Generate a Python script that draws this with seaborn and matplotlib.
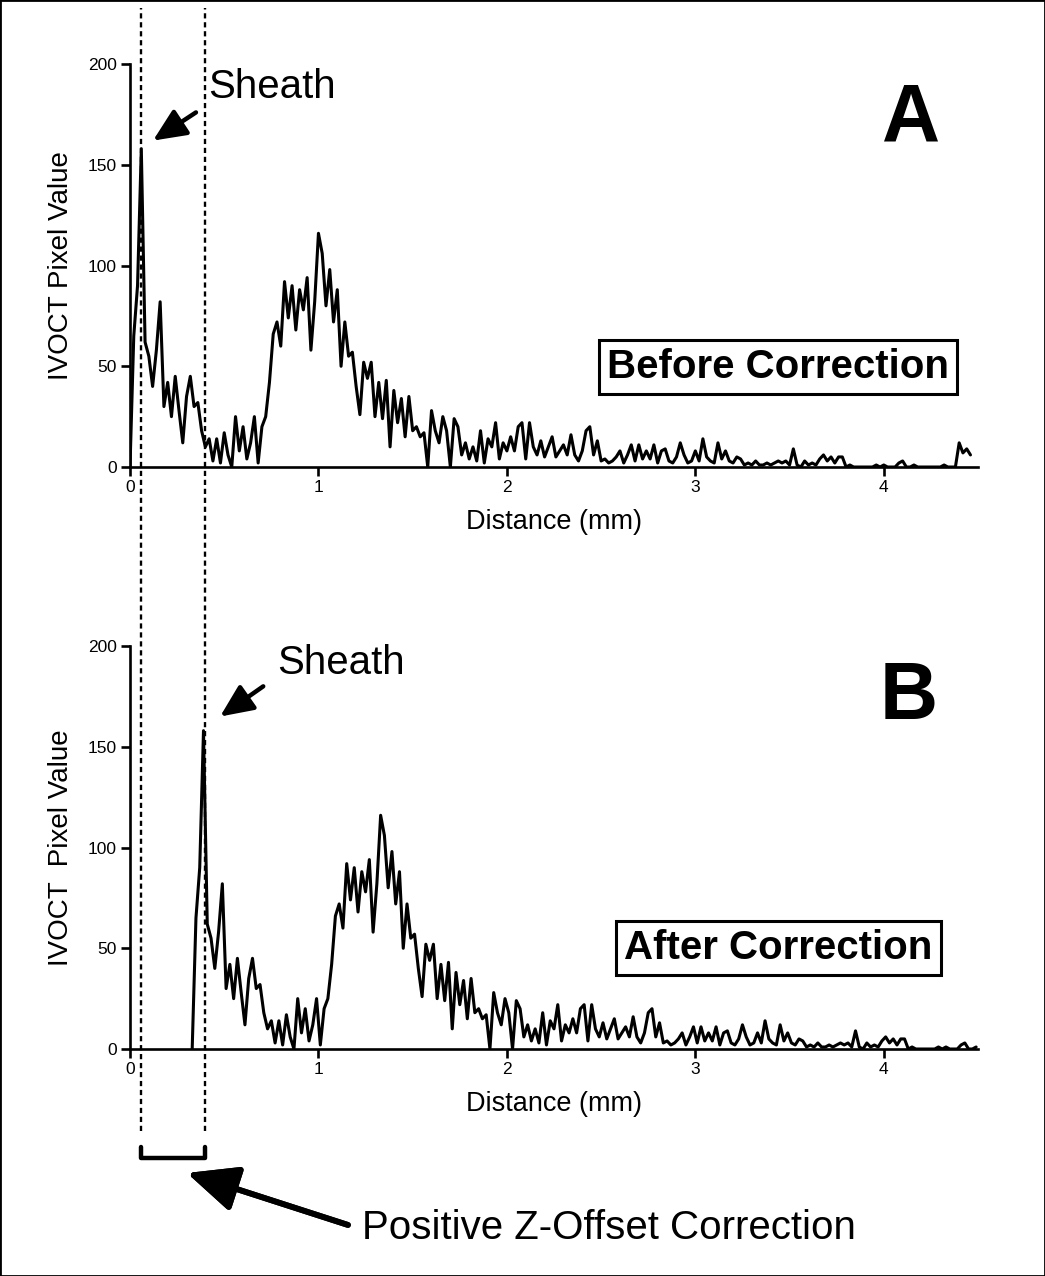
import numpy as np
import pandas as pd
import matplotlib
matplotlib.use("Agg")
import matplotlib.pyplot as plt
import seaborn as sns
from matplotlib.lines import Line2D
from matplotlib.patches import Rectangle

# IVOCT A-line profile, one sample every 0.02 mm
step_mm = 0.02
a_values = [
    0, 65, 90, 158, 62, 55, 40, 58, 82, 30,
    42, 25, 45, 28, 12, 35, 45, 30, 32, 18,
    10, 14, 3, 14, 2, 17, 6, 0, 25, 8,
    20, 4, 12, 25, 2, 20, 25, 42, 66, 72,
    60, 92, 74, 90, 68, 88, 78, 94, 58, 82,
    116, 106, 80, 98, 72, 88, 50, 72, 55, 57,
    40, 26, 52, 44, 52, 25, 42, 24, 43, 10,
    38, 22, 34, 15, 35, 18, 20, 15, 17, 0,
    28, 18, 12, 25, 18, 0, 24, 20, 6, 12,
    4, 10, 3, 18, 2, 14, 10, 22, 4, 12,
    8, 15, 8, 20, 22, 4, 22, 10, 6, 13,
    5, 10, 15, 5, 8, 11, 6, 16, 6, 3,
    8, 18, 20, 6, 13, 3, 4, 2, 3, 5,
    8, 2, 6, 11, 3, 11, 4, 8, 4, 11,
    2, 8, 9, 3, 2, 5, 12, 6, 2, 3,
    8, 3, 14, 5, 3, 2, 12, 4, 8, 3,
    2, 5, 4, 1, 2, 1, 3, 1, 1, 2,
    1, 2, 3, 2, 3, 1, 9, 1, 0, 3,
    1, 2, 1, 4, 6, 3, 5, 2, 5, 5,
    0, 1, 0, 0, 0, 0, 0, 0, 1, 0,
    1, 0, 0, 0, 2, 3, 0, 0, 1, 0,
    0, 0, 0, 0, 0, 0, 1, 0, 0, 0,
    12, 7, 9, 6,
]
z_offset_mm = 0.33       # shift applied in panel B
sheath_before_mm = 0.06  # sheath peak position before correction
sheath_after_mm = 0.40   # sheath peak position after correction

x_ticks = [0, 1, 2, 3, 4]
y_ticks = [0, 50, 100, 150, 200]

distance = np.arange(len(a_values)) * step_mm
df_a = pd.DataFrame({"distance": distance, "value": a_values})
df_b = pd.DataFrame({"distance": distance + z_offset_mm, "value": a_values})
df_b = df_b[df_b["distance"] <= 4.5]

sns.set_style("ticks")
plt.rcParams["font.family"] = ["Liberation Sans", "DejaVu Sans"]
plt.rcParams["text.color"] = "black"
plt.rcParams["axes.labelcolor"] = "black"

fig = plt.figure(figsize=(10.45, 12.76), dpi=100)
ax_a = fig.add_axes([0.1244, 0.634, 0.8115, 0.3158])
ax_b = fig.add_axes([0.1244, 0.1779, 0.8115, 0.3158])

for ax, df, ylab in [(ax_a, df_a, "IVOCT Pixel Value"),
                     (ax_b, df_b, "IVOCT  Pixel Value")]:
    sns.lineplot(data=df, x="distance", y="value", ax=ax, color="black",
                 linewidth=2.2, estimator=None, sort=False)
    ax.set_xlim(0, 4.5)
    ax.set_ylim(0, 200)
    ax.set_xticks(x_ticks)
    ax.set_yticks(y_ticks)
    sns.despine(ax=ax)
    for s in ["left", "bottom"]:
        ax.spines[s].set_linewidth(1.9)
        ax.spines[s].set_color("black")
    ax.tick_params(direction="out", length=6.5, width=1.9, labelsize=12.5,
                   colors="black", pad=3)
    ax.set_xlabel("Distance (mm)", fontsize=19.5)
    ax.set_ylabel(ylab, fontsize=20)
    ax.xaxis.set_label_coords(0.5, -0.105)
    ax.yaxis.set_label_coords(-0.066, 0.5)

arrow_small = dict(arrowstyle="-|>,head_length=1.0,head_width=0.45",
                   mutation_scale=20, lw=3.2, color="black", shrinkA=0, shrinkB=0)

# panel A annotations
ax_a.text(4.145, 162, "A", fontsize=58, fontweight="bold", ha="center", va="baseline")
ax_a.text(0.415, 183, "Sheath", fontsize=29, ha="left", va="baseline")
ax_a.annotate("", xy=(0.122, 162), xytext=(0.35, 176), arrowprops=arrow_small)
ax_a.text(3.44, 49.6, "Before Correction", fontsize=29, fontweight="bold",
          ha="center", va="center",
          bbox=dict(boxstyle="square,pad=0.2", fc="white", ec="black", lw=2.2))

# panel B annotations
ax_b.text(4.13, 164, "B", fontsize=58, fontweight="bold", ha="center", va="baseline")
ax_b.text(0.78, 186, "Sheath", fontsize=29, ha="left", va="baseline")
ax_b.annotate("", xy=(0.478, 165), xytext=(0.707, 180), arrowprops=arrow_small)
ax_b.text(3.44, 50, "After Correction", fontsize=29, fontweight="bold",
          ha="center", va="center",
          bbox=dict(boxstyle="square,pad=0.2", fc="white", ec="black", lw=2.2))

# dashed guides through both panels, at the sheath positions
to_fig = ax_a.transData + fig.transFigure.inverted()
x1 = to_fig.transform((sheath_before_mm, 0))[0]
x2 = to_fig.transform((sheath_after_mm, 0))[0]
for xf in (x1, x2):
    fig.add_artist(Line2D([xf, xf], [0.1135, 0.9937], transform=fig.transFigure,
                          color="black", lw=1.7, linestyle=(0, (2.2, 1.6))))

# bracket + arrow for the offset correction
fig.add_artist(Line2D([x1, x1, x2, x2], [0.1011, 0.0925, 0.0925, 0.1011],
                      transform=fig.transFigure, color="black", lw=3.2))
fig.add_artist(plt.annotate("", xy=(0.1790, 0.0807), xytext=(0.3330, 0.0400),
                            xycoords="figure fraction", textcoords="figure fraction",
                            arrowprops=dict(arrowstyle="-|>,head_length=1.55,head_width=0.7",
                                            mutation_scale=20, lw=4.2, color="black",
                                            shrinkA=0, shrinkB=0)))
fig.text(0.3464, 0.0376, "Positive Z-Offset Correction", fontsize=29,
         ha="left", va="center")

fig.add_artist(Rectangle((0, 0), 1, 1, transform=fig.transFigure, fill=False,
                         ec="black", lw=2))

fig.savefig("out.png", dpi=100)
